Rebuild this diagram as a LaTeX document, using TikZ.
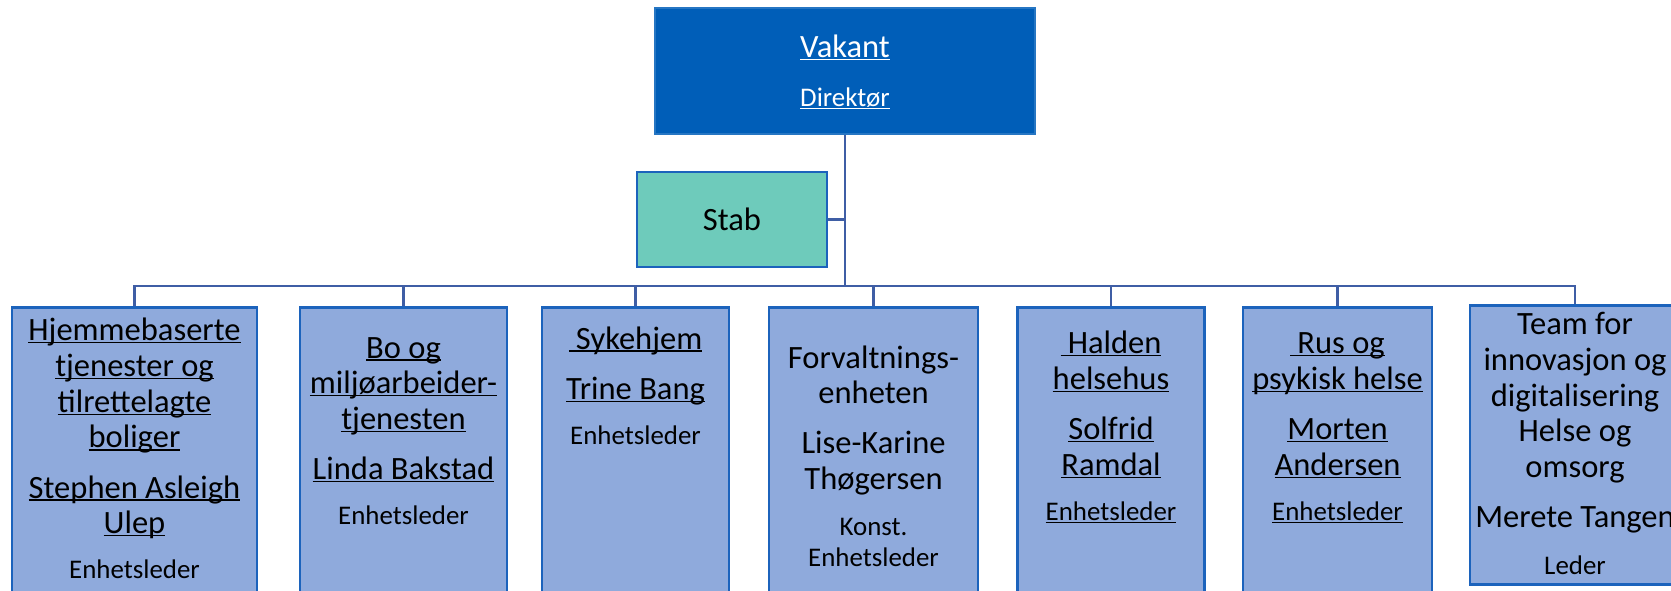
\documentclass[tikz,border=0pt]{standalone}
\usepackage{fontspec}
\setmainfont{Carlito}
\usepackage{tikz}
\definecolor{dirblue}{RGB}{0,94,184}
\definecolor{stabgreen}{RGB}{110,203,187}
\definecolor{unitfill}{RGB}{143,170,220}
\definecolor{edgeblue}{RGB}{28,99,188}
\definecolor{linkblue}{RGB}{63,94,165}
\newsavebox{\undlbox}
\newcommand{\undl}[1]{\leavevmode\sbox{\undlbox}{#1}\rlap{\rule[-0.75pt]{\wd\undlbox}{0.35pt}}\usebox{\undlbox}}
\newcommand{\orgbig}{\fontsize{9.25pt}{10.16pt}\selectfont}
\newcommand{\orgsmall}{\fontsize{7.65pt}{9pt}\selectfont}
\newcommand{\topstrut}{\rule{0pt}{8pt}}
\newcommand{\lsp}{\hspace{0.22em}}

\begin{document}
\begin{tikzpicture}[x=0.01cm, y=-0.01cm,
		unit/.style={draw=edgeblue, line width=0.75pt, fill=unitfill, anchor=north, minimum width=#1, minimum height=2.94cm, inner sep=0pt},
		unittext/.style={anchor=north, align=center, inner sep=0pt, font=\orgbig},
		link/.style={draw=linkblue, line width=0.6pt}]
			\useasboundingbox (0,0) rectangle (1671,590);
			\clip (0,0) rectangle (1671,590);
			\node[fill=dirblue, draw=dirblue!85!white, line width=0.4pt, minimum width=3.8cm, minimum height=1.26cm, inner sep=0pt] (dir) at (845,71) {};
			\node[font=\orgbig, text=white, anchor=base, inner sep=0pt] (dirname) at (845,57.3) {\undl{Vakant}};
			\node[font=\orgsmall, text=white, anchor=base, inner sep=0pt] (dirrole) at (845,106.7) {\undl{Direktør}};
			\node[fill=stabgreen, draw=edgeblue, line width=0.75pt, minimum width=1.9cm, minimum height=0.95cm, font=\orgbig] (stab) at (732,219.5) {Stab};
			\coordinate (bus) at (845,286);
				\node[unit=2.45cm] (hjem) at (134.5,306) {};
				\node[unit=2.07cm] (bomil) at (403.5,306) {};
				\node[unit=1.87cm] (syke) at (635.5,306) {};
				\node[unit=2.09cm] (forv) at (873.5,306) {};
				\node[unit=1.87cm] (halden) at (1111,306) {};
				\node[unit=1.89cm] (rus) at (1337.5,306) {};
				\node[unit=2.1cm, minimum height=2.79cm] (team) at (1575,304) {};
			\draw[link] (dir.south) -- (bus);
			\draw[link] (stab.east) -- (stab.east -| bus);
			\foreach \u in {hjem,bomil,syke,forv,halden,rus,team}
				\draw[link] (\u.north) |- (bus);
				\node[unittext] (hjemtxt) at (134.5,311.9) {\topstrut\undl{Hjemmebaserte}\\ \undl{tjenester og}\\ \undl{tilrettelagte}\\ \undl{boliger}\\[4.1pt] \undl{Stephen Asleigh}\\ \undl{Ulep}\\[2.6pt] {\orgsmall Enhetsleder}};
				\node[unittext] (bomiltxt) at (403.5,329.2) {\topstrut\undl{Bo og}\\ \undl{miljøarbeider-}\\ \undl{tjenesten}\\[4.1pt] \undl{Linda Bakstad}\\[2.6pt] {\orgsmall Enhetsleder}};
				\node[unittext] (syketxt) at (635.5,320.2) {\topstrut\undl{\lsp Sykehjem}\\[4.1pt] \undl{Trine Bang}\\[2.6pt] {\orgsmall Enhetsleder}};
				\node[unittext] (forvtxt) at (873.5,339.2) {\topstrut Forvaltnings-\\ enheten\\[4.1pt] Lise-Karine\\ Thøgersen\\[2.9pt] {\orgsmall Konst.}\\[-1.43pt] {\orgsmall Enhetsleder}};
				\node[unittext] (haldentxt) at (1111,324.9) {\topstrut\undl{\lsp Halden}\\ \undl{helsehus}\\[4.1pt] \undl{Solfrid}\\ \undl{Ramdal}\\[2.6pt] {\orgsmall\undl{Enhetsleder}}};
				\node[unittext] (rustxt) at (1337.5,324.9) {\topstrut\undl{\lsp Rus og}\\ \undl{psykisk helse}\\[4.1pt] \undl{Morten}\\ \undl{Andersen}\\[2.6pt] {\orgsmall\undl{Enhetsleder}}};
				\node[unittext] (teamtxt) at (1575,305.9) {\topstrut Team for\\ innovasjon og\\ digitalisering\\ Helse og\\ omsorg\\[4.1pt] Merete Tangen\\[3pt] {\orgsmall Leder}};
		\end{tikzpicture}
\end{document}
